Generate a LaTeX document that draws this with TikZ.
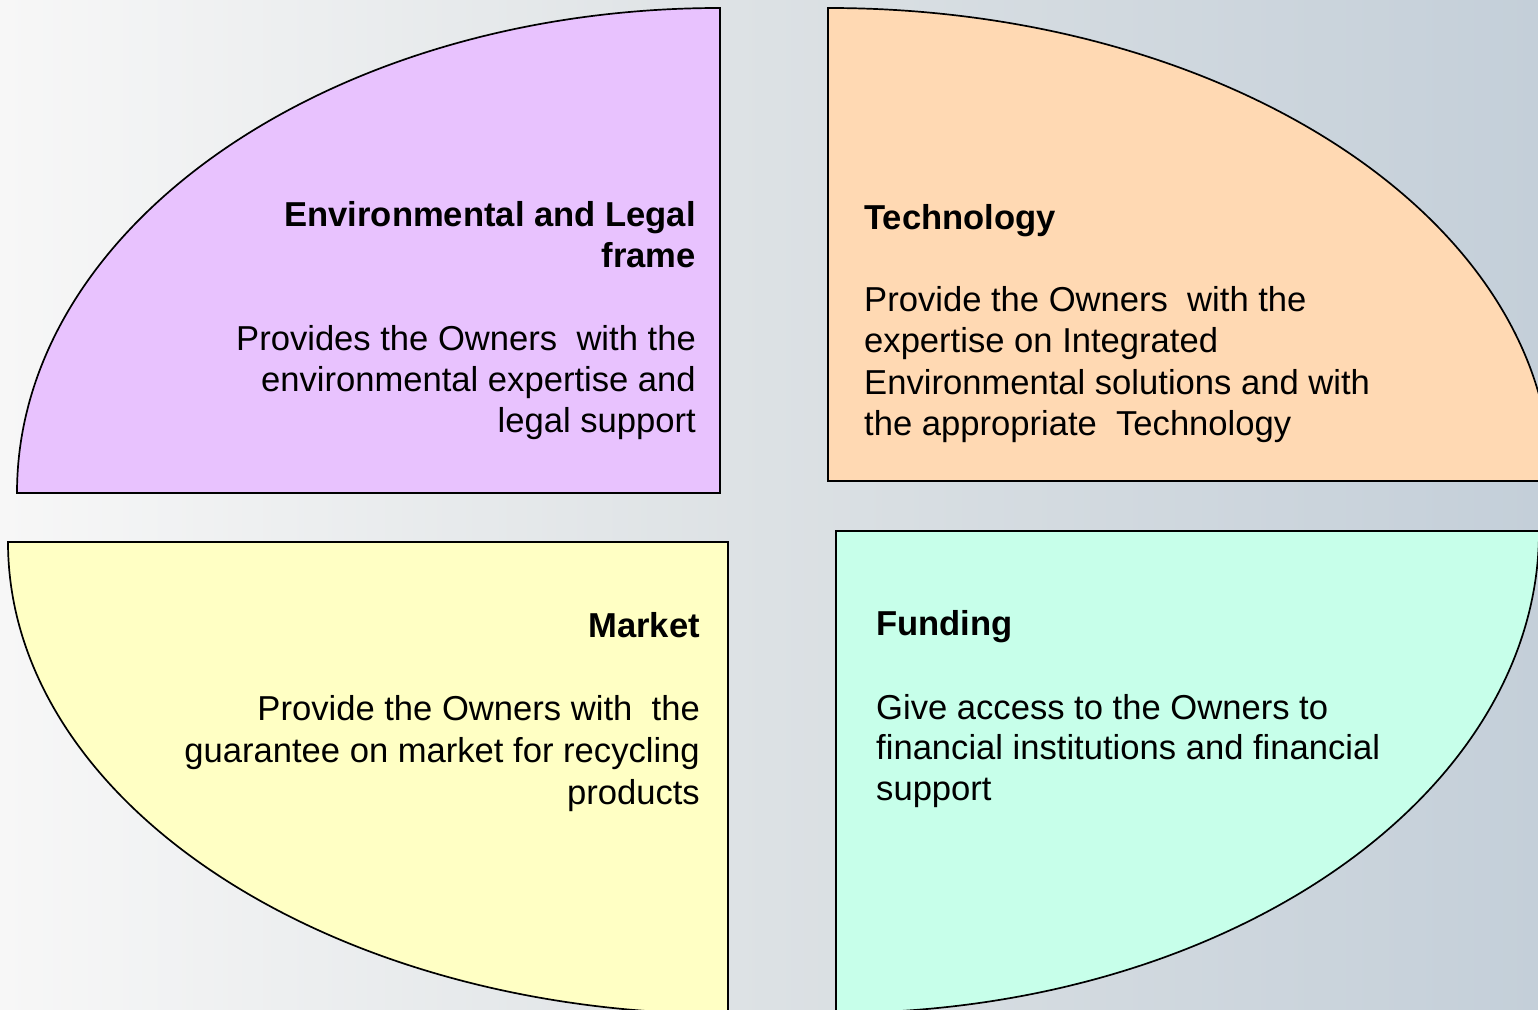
\documentclass[tikz,border=0pt]{standalone}
\usepackage{fontspec}
\setmainfont{Liberation Sans}
\definecolor{bgL}{HTML}{F7F7F7}
\definecolor{bgM}{HTML}{DCE1E4}
\definecolor{bgR}{HTML}{C4CFD9}
\definecolor{cPurple}{HTML}{E8C2FE}
\definecolor{cOrange}{HTML}{FFD9B3}
\definecolor{cYellow}{HTML}{FFFFC4}
\definecolor{cTeal}{HTML}{C7FFEA}
\tikzset{
  quarter/.style={draw=black, line width=1.7pt, line join=miter},
  txt/.style={inner sep=0pt, font=\fontsize{34.6}{41.5}\selectfont},
  ttl/.style={txt, font=\fontsize{34.6}{41.5}\selectfont\bfseries},
}
\begin{document}
\begin{tikzpicture}[x=1pt,y=1pt]
\useasboundingbox (0,0) rectangle (1538,1009);
\clip (0,0) rectangle (1538,1009);
\shade[left color=bgL, right color=bgR, middle color=bgM] (0,0) rectangle (1538,1009);

% quarter ellipses
\path[quarter, fill=cPurple] (720,516) -- (17,516) arc[start angle=180, end angle=90, x radius=703pt, y radius=485pt] -- cycle;
\path[quarter, fill=cOrange] (828,528) -- (828,1001) arc[start angle=90, end angle=0, x radius=723pt, y radius=473pt] -- cycle;
\path[quarter, fill=cYellow] (728,467) -- (8,467) arc[start angle=180, end angle=270, x radius=720pt, y radius=472pt] -- cycle;
\path[quarter, fill=cTeal] (836,478) -- (1539,478) arc[start angle=0, end angle=-90, x radius=703pt, y radius=482pt] -- cycle;

% Environmental and Legal frame
\node[ttl, anchor=base east] (e1) at (696,782.5) {Environmental and Legal};
\node[ttl, anchor=base east] (e2) at (696,741.5) {frame};
\node[txt, anchor=base east] (e3) at (696,658.5) {Provides the Owners\ \ with the};
\node[txt, anchor=base east] (e4) at (696,617.5) {environmental expertise and};
\node[txt, anchor=base east] (e5) at (696,576.5) {legal support};

% Technology
\node[ttl, anchor=base west] (t1) at (864,779.5) {Technology};
\node[txt, anchor=base west] (t2) at (864,697.5) {Provide the Owners\ \ with the};
\node[txt, anchor=base west] (t3) at (864,656.5) {expertise on Integrated};
\node[txt, anchor=base west] (t4) at (864,614.5) {Environmental solutions and with};
\node[txt, anchor=base west] (t5) at (864,573.5) {the appropriate\ \ Technology};

% Market
\node[ttl, anchor=base east] (m1) at (700,371.5) {Market};
\node[txt, anchor=base east] (m2) at (700,288.5) {Provide the Owners with\ \ the};
\node[txt, anchor=base east] (m3) at (700,246.5) {guarantee on market for recycling};
\node[txt, anchor=base east] (m4) at (700,204.5) {products};

% Funding
\node[ttl, anchor=base west] (f1) at (876,373.5) {Funding};
\node[txt, anchor=base west] (f2) at (876,289.5) {Give access to the Owners to};
\node[txt, anchor=base west] (f3) at (876,249.5) {financial institutions and financial};
\node[txt, anchor=base west] (f4) at (876,208.5) {support};
\end{tikzpicture}
\end{document}
